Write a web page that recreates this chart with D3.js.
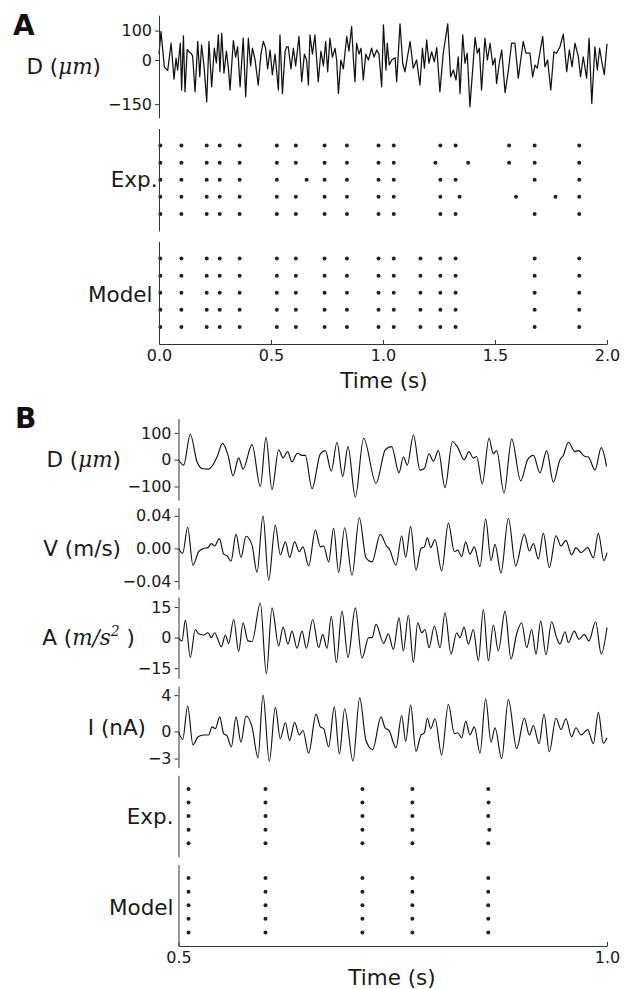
<!DOCTYPE html>
<html><head><meta charset="utf-8">
<script src="https://cdn.jsdelivr.net/npm/d3@7"></script>
<style>
html,body{margin:0;padding:0;background:#fff;}
svg{display:block;}
</style></head><body>
<svg id="chart" width="640" height="989"></svg>
<script>
// ---------------- DATA ----------------
// Panel A: displacement (µm) vs time (s), 0-2 s
const dispA = [[0,20],[0.009,97],[0.024,-25],[0.039,-35],[0.054,57],[0.067,-65],[0.076,6],[0.083,-34],[0.095,57],[0.101,-102],[0.109,82],[0.116,-108],[0.126,36],[0.134,28],[0.143,23],[0.150,14],[0.161,-108],[0.173,63],[0.182,-57],[0.190,51],[0.201,-20],[0.213,-142],[0.223,63],[0.235,-91],[0.247,40],[0.256,-10],[0.265,85],[0.272,-40],[0.280,91],[0.290,-45],[0.301,30],[0.310,-30],[0.317,-102],[0.332,66],[0.342,10],[0.351,45],[0.362,-91],[0.376,74],[0.387,-125],[0.399,74],[0.409,-20],[0.417,40],[0.429,0],[0.443,-85],[0.455,20],[0.466,63],[0.476,40],[0.485,-30],[0.496,34],[0.506,-50],[0.518,20],[0.533,-102],[0.540,85],[0.551,-114],[0.563,30],[0.570,45],[0.577,45],[0.589,-30],[0.600,40],[0.610,-20],[0.625,80],[0.637,-74],[0.649,20],[0.659,0],[0.667,-85],[0.674,85],[0.685,20],[0.696,85],[0.711,-74],[0.723,30],[0.734,-20],[0.744,63],[0.753,-40],[0.763,74],[0.774,10],[0.786,40],[0.793,0],[0.801,-114],[0.812,0],[0.823,-30],[0.838,80],[0.848,30],[0.860,114],[0.868,0],[0.875,-74],[0.882,57],[0.893,20],[0.902,40],[0.912,-68],[0.923,20],[0.935,0],[0.949,40],[0.960,10],[0.972,34],[0.982,20],[0.994,-91],
[1.002,119],[1.013,-34],[1.019,57],[1.028,-17],[1.039,0],[1.054,8],[1.061,-74],[1.076,123],[1.088,-11],[1.098,-40],[1.121,63],[1.135,-28],[1.150,0],[1.165,-85],[1.176,40],[1.185,-28],[1.195,68],[1.205,-11],[1.217,28],[1.229,-6],[1.240,42],[1.254,-108],[1.269,23],[1.289,123],[1.302,-57],[1.314,-34],[1.326,-68],[1.336,11],[1.344,-114],[1.356,85],[1.366,-11],[1.376,23],[1.388,-159],[1.411,77],[1.421,23],[1.430,40],[1.440,-102],[1.455,74],[1.466,0],[1.478,57],[1.490,-17],[1.500,6],[1.507,-80],[1.519,-11],[1.530,34],[1.545,-111],[1.560,-34],[1.574,57],[1.589,57],[1.604,-62],[1.626,63],[1.638,23],[1.656,23],[1.668,-57],[1.679,-17],[1.689,-28],[1.701,28],[1.713,80],[1.723,-23],[1.735,0],[1.749,-102],[1.763,28],[1.775,23],[1.790,45],[1.805,88],[1.820,-40],[1.832,34],[1.844,-23],[1.857,57],[1.872,11],[1.882,-57],[1.894,11],[1.909,-62],[1.920,74],[1.932,-148],[1.946,45],[1.957,-34],[1.967,40],[1.978,-11],[1.988,-50],[2.0,55]];

// Panel A spike rasters (5 trials each)
const expSpikesA = [
  [0.006,0.100,0.213,0.271,0.360,0.526,0.611,0.739,0.839,0.980,1.048,1.256,1.324,1.563,1.677,1.876],
  [0.006,0.100,0.213,0.271,0.360,0.526,0.611,0.739,0.839,0.980,1.048,1.234,1.380,1.563,1.677,1.876],
  [0.006,0.100,0.213,0.271,0.360,0.526,0.659,0.739,0.839,0.980,1.048,1.256,1.324,1.677,1.876],
  [0.006,0.100,0.213,0.271,0.360,0.526,0.611,0.739,0.839,0.980,1.048,1.256,1.342,1.594,1.770,1.876],
  [0.006,0.100,0.213,0.271,0.360,0.526,0.611,0.739,0.839,0.980,1.048,1.256,1.324,1.677,1.876]
];
const modelSpikesA = [
  [0.006,0.100,0.213,0.271,0.360,0.526,0.611,0.739,0.839,0.980,1.048,1.167,1.256,1.324,1.677,1.876],
  [0.006,0.100,0.213,0.271,0.360,0.526,0.611,0.739,0.839,0.980,1.048,1.167,1.256,1.324,1.677,1.876],
  [0.006,0.100,0.213,0.271,0.360,0.526,0.611,0.739,0.839,0.980,1.048,1.167,1.256,1.324,1.677,1.876],
  [0.006,0.100,0.213,0.271,0.360,0.526,0.611,0.739,0.839,0.980,1.048,1.167,1.256,1.324,1.677,1.876],
  [0.006,0.100,0.213,0.271,0.360,0.526,0.611,0.739,0.839,0.980,1.048,1.167,1.256,1.324,1.677,1.876]
];

// Panel B: 0.5-1.0 s
const dispB = [[0.5,0],[0.506,-20],[0.5138,95],[0.5216,-8],[0.5274,-33],[0.5352,-35],[0.541,-15],[0.5449,10],[0.5515,61],[0.5578,16],[0.5636,-60],[0.5702,7],[0.5753,-35],[0.5858,56],[0.5955,-100],[0.6021,83],[0.6091,-112],[0.6169,37],[0.6219,7],[0.6274,30],[0.6324,-8],[0.6387,24],[0.6441,16],[0.6479,16],[0.6558,-108],[0.6655,22],[0.6713,34],[0.6783,-43],[0.6849,65],[0.6916,-63],[0.6978,49],[0.7063,-140],[0.716,80],[0.7305,-88],[0.7413,37],[0.7487,49],[0.7573,-49],[0.7624,10],[0.767,-20],[0.7741,92],[0.7818,-39],[0.7869,-33],[0.7923,22],[0.7974,-6],[0.8032,34],[0.811,-104],[0.8196,67],[0.8258,46],[0.8332,0],[0.839,30],[0.844,6],[0.8479,12],[0.8545,-90],[0.8623,80],[0.8674,22],[0.8713,34],[0.8798,-124],[0.8888,77],[0.8993,-79],[0.9074,0],[0.9141,16],[0.9218,-49],[0.9296,34],[0.9374,-84],[0.9451,0],[0.949,16],[0.9549,65],[0.9626,30],[0.9665,34],[0.9743,12],[0.9782,10],[0.986,-39],[0.9933,45],[0.9995,-25]];

const velB = [[0.5,0],[0.5049,-0.006],[0.5107,0.026],[0.5169,-0.0205],[0.5235,-0.004],[0.5294,0],[0.5344,0.001],[0.5383,0.006],[0.5422,0.003],[0.5477,0.012],[0.5527,-0.007],[0.5566,-0.009],[0.5613,-0.0156],[0.5671,0.0176],[0.5729,-0.011],[0.5788,0.015],[0.5858,0.004],[0.5916,-0.0295],[0.5986,0.04],[0.6052,-0.039],[0.613,0.0287],[0.6188,-0.008],[0.6247,0.008],[0.6297,-0.011],[0.6355,0.008],[0.641,-0.004],[0.6452,0.002],[0.6519,-0.0213],[0.6597,0.0225],[0.6655,0.002],[0.6694,0.003],[0.6752,-0.0164],[0.681,0.0246],[0.6869,-0.0295],[0.6939,0.0254],[0.7025,-0.0328],[0.711,0.0377],[0.7188,-0.0115],[0.7258,-0.0164],[0.7355,0.0172],[0.7433,0.002],[0.7456,0],[0.7538,-0.0205],[0.7604,0.0156],[0.7651,-0.011],[0.7709,0.0267],[0.7771,-0.0267],[0.783,0],[0.7869,0.002],[0.7904,0.013],[0.7943,0.001],[0.7993,0.011],[0.8071,-0.0275],[0.8149,0.031],[0.8219,-0.004],[0.8258,-0.002],[0.8304,-0.010],[0.8351,0.008],[0.8401,-0.007],[0.8452,0.002],[0.8518,-0.0225],[0.8584,0.036],[0.8647,-0.015],[0.8693,0.005],[0.8763,-0.030],[0.8849,0.037],[0.8934,-0.0213],[0.9035,0.0172],[0.9094,-0.003],[0.9141,0.006],[0.9199,-0.013],[0.9257,0.0185],[0.9327,-0.0234],[0.9405,0.0156],[0.9463,0.003],[0.9521,0.010],[0.9587,-0.008],[0.9638,0.001],[0.9697,-0.005],[0.9774,0.001],[0.9841,-0.0115],[0.9899,0.0185],[0.9963,-0.015],[1.0,-0.005]];

const accB = [[0.5,0],[0.5041,-1.6],[0.508,8.6],[0.5138,-9.7],[0.5196,4.0],[0.5235,1.9],[0.5294,1.3],[0.5344,2.4],[0.5383,0],[0.5422,2.4],[0.5461,-1.0],[0.55,-4.5],[0.5547,1.3],[0.5585,-2.9],[0.5644,8.9],[0.5702,-6.8],[0.5753,7.3],[0.5811,-1.6],[0.5858,-1.9],[0.5955,17],[0.6025,-17.8],[0.6091,14.6],[0.6169,-4],[0.622,5.2],[0.6278,-3.2],[0.6324,3.2],[0.6383,-5.2],[0.6441,3.2],[0.6492,-5.2],[0.6566,8.9],[0.6636,-4.9],[0.6682,1.6],[0.6733,-5.2],[0.6783,10.5],[0.6842,-12.2],[0.6908,13],[0.6978,-9.7],[0.7063,14.6],[0.7141,-10],[0.7219,0],[0.7258,0],[0.7305,6.5],[0.7394,-2.8],[0.741,-1.6],[0.7448,1.9],[0.7507,-5.7],[0.7573,9.7],[0.7624,-6.5],[0.7682,11],[0.7741,-12.2],[0.7791,7.3],[0.7838,2.4],[0.7877,4],[0.7923,-4.9],[0.7986,5.7],[0.8052,-4.9],[0.811,12.2],[0.818,-8.1],[0.8246,2.4],[0.8285,0],[0.8332,5.2],[0.8382,-3.2],[0.844,4],[0.8499,-11.3],[0.8557,13.8],[0.8616,-11.3],[0.8674,6.2],[0.8732,-6.5],[0.881,13],[0.888,-10.5],[0.8946,1.9],[0.9004,7.3],[0.9063,-4.9],[0.9121,4],[0.9172,-8.1],[0.9226,8.1],[0.9288,-8.4],[0.9354,7.8],[0.9412,0],[0.9451,-3.2],[0.951,2.9],[0.9549,-2.4],[0.9618,3.2],[0.9673,-0.8],[0.9735,1.6],[0.9789,-1.6],[0.9867,7.8],[0.9933,-8],[1.0,5]];

const curB = [[0.5,0],[0.5049,-0.9],[0.5107,2.8],[0.5169,-1.5],[0.5228,-0.6],[0.5294,-0.4],[0.5352,-0.4],[0.5391,0.5],[0.543,0.3],[0.5481,1.6],[0.5527,-0.25],[0.5566,-0.5],[0.5617,-1.7],[0.5671,1.6],[0.5729,-1.2],[0.5788,1.7],[0.5858,0.5],[0.5928,-2.9],[0.5986,4.0],[0.606,-3.3],[0.613,2.65],[0.6188,-0.8],[0.6247,0.95],[0.6297,-1.0],[0.6355,1.0],[0.641,-0.4],[0.6452,0.1],[0.6519,-2.4],[0.6605,1.9],[0.6655,0.5],[0.6694,0.3],[0.6752,-1.7],[0.6818,2.7],[0.6877,-2.5],[0.6939,2.5],[0.7036,-3.3],[0.7114,3.7],[0.7188,-1.0],[0.7266,-2.0],[0.7363,1.6],[0.741,0.4],[0.7456,0.1],[0.7538,-1.8],[0.7604,1.75],[0.7651,-1.1],[0.7709,2.9],[0.7771,-2.2],[0.783,-0.4],[0.7869,-0.15],[0.7904,1.45],[0.7943,0.3],[0.7993,1.4],[0.8071,-2.6],[0.8149,3.0],[0.8219,-0.25],[0.8258,-0.15],[0.8304,-0.7],[0.8351,1.1],[0.8401,-0.4],[0.8452,0.5],[0.8518,-2.4],[0.8584,3.6],[0.8647,-1.2],[0.8693,0.4],[0.8771,-3.0],[0.8849,3.5],[0.8946,-1.9],[0.9035,1.45],[0.9094,-0.4],[0.9141,0.65],[0.9207,-1.35],[0.9265,1.9],[0.9327,-2.25],[0.9405,1.45],[0.9463,0.2],[0.9521,1.4],[0.9587,-0.6],[0.9638,0.4],[0.9697,-0.4],[0.9774,0.2],[0.9841,-1.35],[0.9899,2.1],[0.9957,-1.3],[1.0,-0.7]];

const expSpikesB = [
  [0.5117,0.6015,0.7146,0.7729,0.8614],
  [0.5117,0.6015,0.7146,0.7729,0.8618],
  [0.5117,0.6015,0.7146,0.7729,0.8614],
  [0.5117,0.6015,0.7146,0.7729,0.8627],
  [0.5117,0.6015,0.7146,0.7729,0.8614]
];
const modelSpikesB = [
  [0.5117,0.6015,0.7146,0.7729,0.8614],
  [0.5117,0.6015,0.7146,0.7729,0.8614],
  [0.5117,0.6015,0.7146,0.7729,0.8614],
  [0.5117,0.6015,0.7146,0.7729,0.8614],
  [0.5117,0.6015,0.7146,0.7729,0.8614]
];

// Tick values / labels
const timeTicksA = [0, 0.5, 1.0, 1.5, 2.0];
const timeTickLabelsA = ["0.0","0.5","1.0","1.5","2.0"];
const timeTicksB = [0.5, 1.0];
const timeTickLabelsB = ["0.5","1.0"];
const dTicksA = [100, 0, -150];
const dTickLabelsA = ["100","0","\u2212150"];
const dTicksB = [100, 0, -100];
const dTickLabelsB = ["100","0","\u2212100"];
const vTicksB = [0.04, 0, -0.04];
const vTickLabelsB = ["0.04","0.00","\u22120.04"];
const aTicksB = [15, 0, -15];
const aTickLabelsB = ["15","0","\u221215"];
const iTicksB = [4, 0, -3];
const iTickLabelsB = ["4","0","\u22123"];

// ---------------- DRAW ----------------
const svg = d3.select("#chart");
const FONT = "DejaVu Sans, sans-serif";
const MATH = "DejaVu Serif, serif";
const INK = "#1a1a1a";
const SPINE = "#333";

function styleAxis(g){
  g.attr("font-family", FONT).attr("font-size", 16);
  g.select(".domain").attr("stroke", SPINE).attr("stroke-width", 1);
  g.selectAll(".tick line").attr("stroke", SPINE).attr("stroke-width", 1);
  g.selectAll(".tick text").attr("fill", INK);
}
function leftAxis(x0, y, vals, labs){
  const ax = d3.axisLeft(y).tickValues(vals).tickFormat((d,i)=>labs[i])
    .tickSize(4).tickPadding(3).tickSizeOuter(0);
  const g = svg.append("g").attr("transform", `translate(${x0},0)`).call(ax);
  styleAxis(g);
}
function bottomAxis(y0, x, vals, labs){
  const ax = d3.axisBottom(x).tickValues(vals).tickFormat((d,i)=>labs[i])
    .tickSize(-4).tickPadding(6).tickSizeOuter(0);
  const g = svg.append("g").attr("transform", `translate(0,${y0})`).call(ax);
  styleAxis(g);
}
function traceLine(data, x, y, curve, w){
  const line = d3.line().x(d=>x(d[0])).y(d=>y(d[1])).curve(curve);
  svg.append("path").datum(data).attr("d", line)
    .attr("fill","none").attr("stroke","#111").attr("stroke-width",w)
    .attr("stroke-linejoin","round");
}
function raster(rows, x, y){
  const pts = [];
  rows.forEach((r,k)=> r.forEach(t=> pts.push([t, 5-k])));
  svg.append("g").selectAll("circle").data(pts).join("circle")
    .attr("cx", d=>x(d[0])).attr("cy", d=>y(d[1])).attr("r", 2).attr("fill", "#222");
}
// label made of parts: [text, kind] kind: n normal, i italic math, s superscript
function yLabel(xRight, yMid, parts){
  const t = svg.append("text").attr("x", xRight).attr("y", yMid).attr("dy","0.36em")
    .attr("text-anchor","end").attr("font-family", FONT).attr("font-size", 21.5).attr("fill", INK);
  parts.forEach(([s,k])=>{
    const ts = t.append("tspan").text(s);
    if(k==="i") ts.attr("font-family", MATH).attr("font-style","italic");
    if(k==="s") ts.attr("font-family", MATH).attr("font-style","italic").attr("font-size",14).attr("dy",-9);
    if(k==="after") ts.attr("dy",9);
  });
}
function panelLetter(x, y, s){
  svg.append("text").attr("x",x).attr("y",y).text(s)
    .attr("font-family",FONT).attr("font-weight","bold").attr("font-size",28).attr("fill","#111");
}
function xLabel(xc, y, s){
  svg.append("text").attr("x",xc).attr("y",y).text(s).attr("text-anchor","middle")
    .attr("font-family",FONT).attr("font-size",21.5).attr("fill",INK);
}

// ---- Panel A ----
const xA = d3.scaleLinear().domain([0,2]).range([159,607]);
const hA = 102.5;
const topsA = [15.2, 128.5, 241.5];
const yAD = d3.scaleLinear().domain([-196,152.2]).range([topsA[0]+hA, topsA[0]]);
const yAExp = d3.scaleLinear().domain([0,6]).range([topsA[1]+hA, topsA[1]]);
const yAMod = d3.scaleLinear().domain([0,6]).range([topsA[2]+hA, topsA[2]]);

traceLine(dispA, xA, yAD, d3.curveLinear, 1.25);
leftAxis(159, yAD, dTicksA, dTickLabelsA);
raster(expSpikesA, xA, yAExp);
leftAxis(159, yAExp, [], []);
raster(modelSpikesA, xA, yAMod);
leftAxis(159, yAMod, [], []);
bottomAxis(topsA[2]+hA, xA, timeTicksA, timeTickLabelsA);

panelLetter(13, 35, "A");
yLabel(101, (topsA[0]+topsA[0]+hA)/2, [["D (","n"],["\u03bcm","i"],[")","n"]]);
yLabel(157.5, topsA[1]+hA/2, [["Exp.","n"]]);
yLabel(152.5, topsA[2]+hA/2+2, [["Model","n"]]);
xLabel(384, 388, "Time (s)");

// ---- Panel B ----
const xB = d3.scaleLinear().domain([0.5,1.0]).range([178.5,607]);
const hB = 81.5;
const topsB = [418.5, 507.7, 596.9, 686.1, 775.3, 864.5];
const yBD = d3.scaleLinear().domain([-150.4,153.7]).range([topsB[0]+hB, topsB[0]]);
const yBV = d3.scaleLinear().domain([-0.05,0.05]).range([topsB[1]+hB, topsB[1]]);
const yBA = d3.scaleLinear().domain([-20,20]).range([topsB[2]+hB, topsB[2]]);
const yBI = d3.scaleLinear().domain([-4,5]).range([topsB[3]+hB, topsB[3]]);
const yBExp = d3.scaleLinear().domain([0,6]).range([topsB[4]+hB, topsB[4]]);
const yBMod = d3.scaleLinear().domain([0,6]).range([topsB[5]+hB, topsB[5]]);

traceLine(dispB, xB, yBD, d3.curveMonotoneX, 1.15);
leftAxis(178.5, yBD, dTicksB, dTickLabelsB);
traceLine(velB, xB, yBV, d3.curveMonotoneX, 1.15);
leftAxis(178.5, yBV, vTicksB, vTickLabelsB);
traceLine(accB, xB, yBA, d3.curveMonotoneX, 1.15);
leftAxis(178.5, yBA, aTicksB, aTickLabelsB);
traceLine(curB, xB, yBI, d3.curveMonotoneX, 1.15);
leftAxis(178.5, yBI, iTicksB, iTickLabelsB);
raster(expSpikesB, xB, yBExp);
leftAxis(178.5, yBExp, [], []);
raster(modelSpikesB, xB, yBMod);
leftAxis(178.5, yBMod, [], []);
bottomAxis(topsB[5]+hB, xB, timeTicksB, timeTickLabelsB);

panelLetter(15, 428, "B");
yLabel(121, topsB[0]+hB/2, [["D (","n"],["\u03bcm","i"],[")","n"]]);
yLabel(121, topsB[1]+hB/2, [["V (m/s)","n"]]);
yLabel(135, topsB[2]+hB/2, [["A (","n"],["m/s","i"],["2","s"],[" )","after"]]);
yLabel(146, topsB[3]+hB/2, [["I (nA)","n"]]);
yLabel(173.5, topsB[4]+hB/2, [["Exp.","n"]]);
yLabel(173.5, topsB[5]+hB/2+2, [["Model","n"]]);
xLabel(392, 985, "Time (s)");
</script>
</body></html>
